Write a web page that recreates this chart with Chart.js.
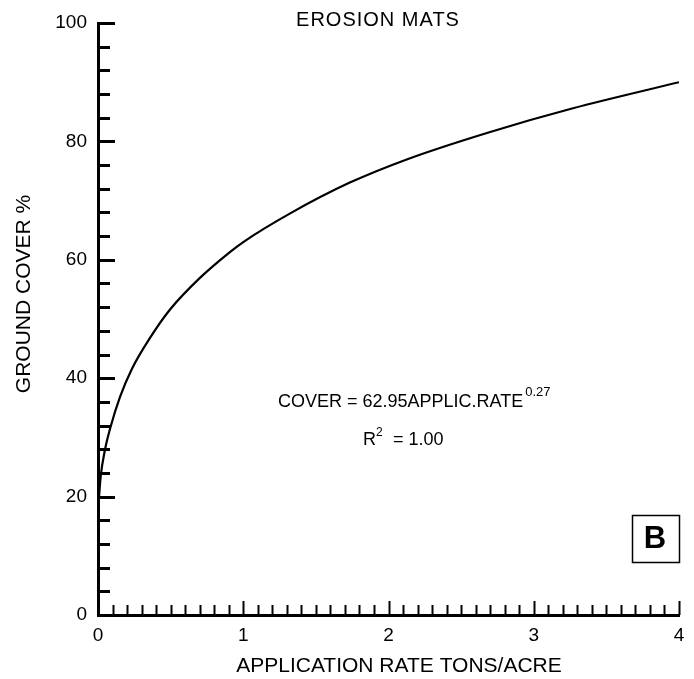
<!DOCTYPE html>
<html>
<head>
<meta charset="utf-8">
<script src="https://cdn.jsdelivr.net/npm/chart.js@4.4.0/dist/chart.umd.min.js"></script>
<style>
  html, body { margin: 0; padding: 0; background: #fff; }
  #wrap { width: 694px; height: 679px; }
</style>
</head>
<body>
<div id="wrap"><canvas id="c" width="694" height="679"></canvas></div>
<script>
// Values
const rateTonsPerAcre = [0.003, 0.018, 0.048, 0.087, 0.151, 0.234, 0.358, 0.496, 0.70, 0.908, 1.0, 1.32, 1.73, 2.13, 2.70, 3.27, 4.0];
const groundCoverPct  = [18.5, 23.3, 27.9, 31.8, 36.8, 41.6, 46.8, 51.6, 56.9, 61.3, 63.0, 67.8, 73.0, 77.0, 81.6, 85.6, 90.0];
const xTickLabels = [0, 1, 2, 3, 4];
const yTickLabels = [0, 20, 40, 60, 80, 100];

const chartTitle = 'EROSION MATS';
const xTitle = 'APPLICATION RATE TONS/ACRE';
const yTitle = 'GROUND COVER %';
const eqMain = 'COVER = 62.95APPLIC.RATE';
const eqExp = '0.27';
const r2Text = '= 1.00';
const panelLetter = 'B';

const FONT = '"Liberation Sans", Arial, Helvetica, sans-serif';

const decor = {
  id: 'decor',
  afterDraw(chart) {
    const ctx = chart.ctx;
    const xs = chart.scales.x, ys = chart.scales.y;
    const area = chart.chartArea;
    ctx.save();
    ctx.strokeStyle = '#000';
    ctx.lineCap = 'butt';
    // y-axis inward ticks
    const yMin = yTickLabels[0], yMax = yTickLabels[yTickLabels.length - 1];
    for (let v = yMin; v <= yMax + 1e-9; v += 4) {
      const major = Math.abs(v % 20) < 1e-6;
      const py = Math.round(ys.getPixelForValue(v)) + 0.5;
      ctx.lineWidth = 3;
      ctx.beginPath();
      ctx.moveTo(area.left, py);
      ctx.lineTo(area.left + (major ? 17 : 12), py);
      ctx.stroke();
    }
    // x-axis inward ticks
    const xMin = xTickLabels[0], xMax = xTickLabels[xTickLabels.length - 1];
    for (let i = 0; i <= (xMax - xMin) * 10; i++) {
      const v = xMin + i / 10;
      const major = i % 10 === 0;
      const px = Math.round(xs.getPixelForValue(v)) + 0.5;
      ctx.lineWidth = 2;
      ctx.beginPath();
      ctx.moveTo(px, area.bottom);
      ctx.lineTo(px, area.bottom - (major ? 14 : 10));
      ctx.stroke();
    }
    // texts
    ctx.fillStyle = '#000';
    ctx.textAlign = 'center';
    ctx.textBaseline = 'middle';
    ctx.font = '20px ' + FONT;
    try { ctx.letterSpacing = '1px'; } catch (e) {}
    ctx.fillText(chartTitle, 378, 20);
    try { ctx.letterSpacing = '0px'; } catch (e) {}
    ctx.font = '21px ' + FONT;
    ctx.fillText(xTitle, 399, 666);
    ctx.save();
    ctx.translate(24, 294);
    ctx.rotate(-Math.PI / 2);
    ctx.fillText(yTitle, 0, 0);
    ctx.restore();

    // equation
    ctx.textAlign = 'left';
    ctx.textBaseline = 'alphabetic';
    ctx.font = '18px ' + FONT;
    ctx.fillText(eqMain, 278, 407);
    const w = ctx.measureText(eqMain).width;
    ctx.font = '13px ' + FONT;
    ctx.fillText(eqExp, 278 + w + 2, 396);
    // R^2
    ctx.font = '18px ' + FONT;
    ctx.fillText('R', 363, 445);
    const wr = ctx.measureText('R').width;
    ctx.font = '12px ' + FONT;
    ctx.fillText('2', 363 + wr, 436);
    ctx.font = '18px ' + FONT;
    ctx.fillText(r2Text, 393, 445);

    // panel box
    ctx.lineWidth = 1.5;
    ctx.strokeRect(632.5, 515.5, 47, 47);
    ctx.font = 'bold 31px ' + FONT;
    ctx.textAlign = 'center';
    ctx.textBaseline = 'middle';
    ctx.fillText(panelLetter, 655, 539);
    ctx.restore();
  }
};

new Chart(document.getElementById('c'), {
  type: 'scatter',
  data: {
    datasets: [{
      data: rateTonsPerAcre.map((x, i) => ({ x: x, y: groundCoverPct[i] })),
      showLine: true,
      borderColor: '#000',
      backgroundColor: '#000',
      borderWidth: 2.2,
      pointRadius: 0,
      fill: false,
      cubicInterpolationMode: 'monotone'
    }]
  },
  options: {
    responsive: false,
    animation: false,
    devicePixelRatio: 1,
    layout: { padding: { top: 23, right: 15, left: 0, bottom: 0 } },
    plugins: { legend: { display: false }, tooltip: { enabled: false }, title: { display: false } },
    scales: {
      x: {
        type: 'linear',
        min: xTickLabels[0],
        max: xTickLabels[xTickLabels.length - 1],
        afterFit: (s) => { s.height = 64; },
        afterBuildTicks: (s) => { s.ticks = xTickLabels.map(v => ({ value: v })); },
        ticks: { stepSize: 1, color: '#000', font: { size: 19, family: FONT }, padding: 9, maxRotation: 0 },
        grid: { drawOnChartArea: false, drawTicks: false },
        border: { display: true, color: '#000', width: 3 }
      },
      y: {
        type: 'linear',
        min: yTickLabels[0],
        max: yTickLabels[yTickLabels.length - 1],
        afterFit: (s) => { s.width = 98; },
        afterBuildTicks: (s) => { s.ticks = yTickLabels.map(v => ({ value: v })); },
        ticks: { stepSize: 20, color: '#000', font: { size: 19, family: FONT }, padding: 11 },
        grid: { drawOnChartArea: false, drawTicks: false },
        border: { display: true, color: '#000', width: 3 }
      }
    }
  },
  plugins: [decor]
});
</script>
</body>
</html>
